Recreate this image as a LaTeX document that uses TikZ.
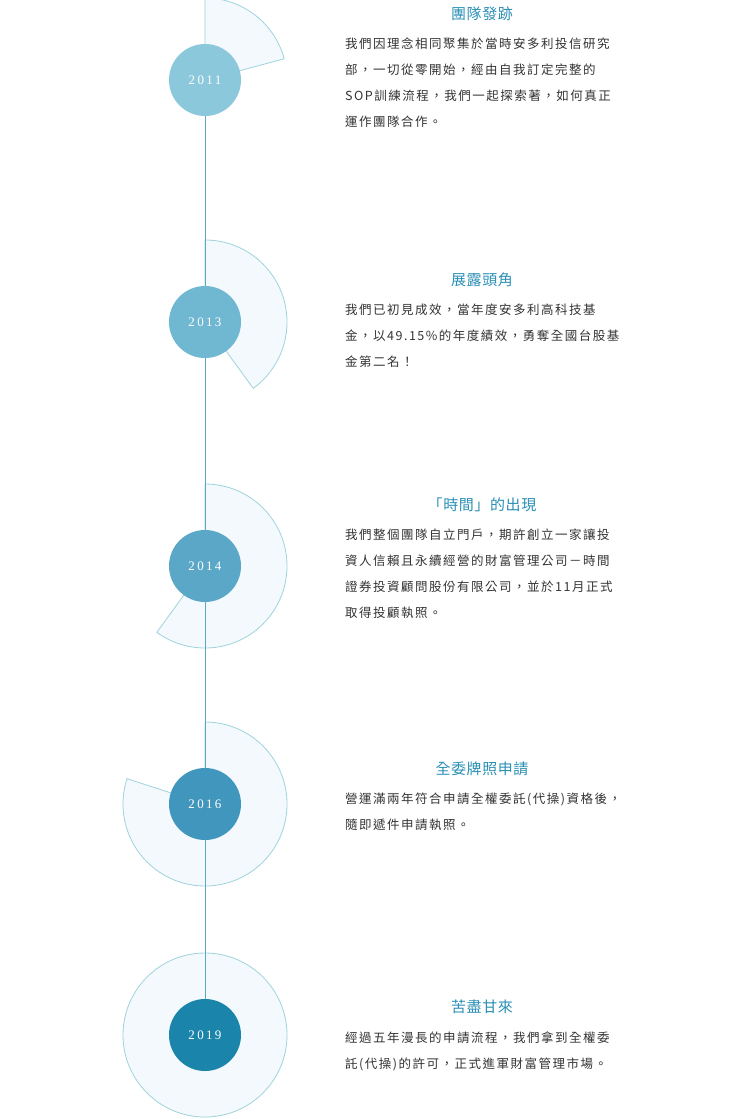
\documentclass[tikz,border=0pt]{standalone}
\usepackage{fontspec}
\newfontfamily\cjk[LetterSpace=12]{Noto Sans CJK TC}
\newfontfamily\cjkt[LetterSpace=4]{Noto Sans CJK TC}
\newfontfamily\yearf[LetterSpace=18]{Liberation Serif}
\definecolor{sect}{HTML}{F3F9FC}
\definecolor{sectline}{HTML}{9ED3DC}
\definecolor{vline}{HTML}{5AA8C8}
\definecolor{ttl}{HTML}{2A8FB5}
\definecolor{body}{HTML}{333333}
\begin{document}
\begin{tikzpicture}[x=1pt,y=-1pt,
  sector/.style={fill=sect,draw=sectline,line width=0.8pt},
  yearc/.style={circle,minimum size=72pt,inner sep=0pt,text=white,font=\yearf\fontsize{13}{13}\selectfont},
  ttlnode/.style={text=ttl,font=\cjkt\fontsize{15}{15}\selectfont,anchor=center},
  bodynode/.style={text=body,font=\cjk\fontsize{12.5}{26}\selectfont,align=left,anchor=north west,inner sep=0pt}]
\useasboundingbox (0,0) rectangle (740,1119);
% sectors (y axis inverted: angles measured with y down -> use negative angles)
\fill[sect] (205,80) -- ++(-90:82) arc[start angle=-90,end angle=-15,radius=82] -- cycle;
\draw[sectline,line width=0.8pt] (205,80) -- ++(-90:82) arc[start angle=-90,end angle=-15,radius=82] -- cycle;
\draw[sector] (205,322) -- ++(-90:82) arc[start angle=-90,end angle=54,radius=82] -- cycle;
\draw[sector] (205,566) -- ++(-90:82) arc[start angle=-90,end angle=126,radius=82] -- cycle;
\draw[sector] (205,804) -- ++(-90:82) arc[start angle=-90,end angle=198,radius=82] -- cycle;
\draw[sector] (205,1035) circle[radius=82];
% line
\coordinate (top) at (205,0);
\coordinate (bot) at (205,1119);
\node[yearc,fill={rgb,255:red,140;green,200;blue,220}] (y1) at (205,80) {2011};
\node[yearc,fill={rgb,255:red,112;green,183;blue,210}] (y2) at (205,322) {2013};
\node[yearc,fill={rgb,255:red,90;green,167;blue,200}] (y3) at (205,566) {2014};
\node[yearc,fill={rgb,255:red,64;green,150;blue,188}] (y4) at (205,804) {2016};
\node[yearc,fill={rgb,255:red,26;green,132;blue,171}] (y5) at (205,1035) {2019};
\draw[vline,line width=0.8pt] (y1) -- (y2);
\draw[vline,line width=0.8pt] (y2) -- (y3);
\draw[vline,line width=0.8pt] (y3) -- (y4);
\draw[vline,line width=0.8pt] (y4) -- (y5);
% texts
\node[ttlnode] (t1) at (482,14) {團隊發跡};
\node[bodynode] (b1) at (345,38) {我們因理念相同聚集於當時安多利投信研究\\部，一切從零開始，經由自我訂定完整的\\SOP訓練流程，我們一起探索著，如何真正\\運作團隊合作。};
\node[ttlnode] (t2) at (482,280) {展露頭角};
\node[bodynode] (b2) at (345,304) {我們已初見成效，當年度安多利高科技基\\金，以49.15\%的年度績效，勇奪全國台股基\\金第二名！};
\node[ttlnode] (t3) at (482,505) {「時間」的出現};
\node[bodynode] (b3) at (345,529) {我們整個團隊自立門戶，期許創立一家讓投\\資人信賴且永續經營的財富管理公司－時間\\證券投資顧問股份有限公司，並於11月正式\\取得投顧執照。};
\node[ttlnode] (t4) at (482,769) {全委牌照申請};
\node[bodynode] (b4) at (345,793) {營運滿兩年符合申請全權委託(代操)資格後，\\隨即遞件申請執照。};
\node[ttlnode] (t5) at (482,1007) {苦盡甘來};
\node[bodynode] (b5) at (345,1032) {經過五年漫長的申請流程，我們拿到全權委\\託(代操)的許可，正式進軍財富管理市場。};
\end{tikzpicture}
\end{document}
